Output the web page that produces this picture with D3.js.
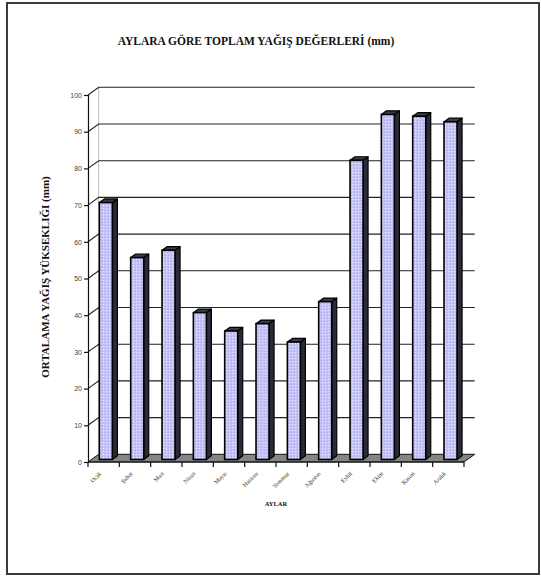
<!DOCTYPE html>
<html>
<head>
<meta charset="utf-8">
<script src="https://cdn.jsdelivr.net/npm/d3@7"></script>
<style>
  html, body { margin: 0; padding: 0; background: #fff; }
  svg { display: block; }
</style>
</head>
<body>
<svg id="chart" width="541" height="576"></svg>
<script>
// Monthly total rainfall (mm)
const months = ["Ocak", "Şubat", "Mart", "Nisan", "Mayıs", "Haziran",
                "Temmuz", "Ağustos", "Eylül", "Ekim", "Kasım", "Aralık"];
const rainfall = [70, 55, 57, 40, 35, 37, 32, 43, 81.5, 94, 93.5, 92];
const yTicks = [0, 10, 20, 30, 40, 50, 60, 70, 80, 90, 100];

const titleText = "AYLARA GÖRE TOPLAM YAĞIŞ DEĞERLERİ (mm)";
const yTitleText = "ORTALAMA YAĞIŞ YÜKSEKLIĞI (mm)";
const xTitleText = "AYLAR";

const svg = d3.select("#chart");

// outer frame
svg.append("rect")
  .attr("x", 7).attr("y", 3).attr("width", 532).attr("height", 571)
  .attr("fill", "none").attr("stroke", "#3a3a3a").attr("stroke-width", 2);

// front plane of the 3-D plot
const plotLeft = 88, plotRight = 464, plotBottom = 462, plotTop = 95;
const depthX = 10.7, depthY = -7.7;

const x = d3.scaleBand().domain(months).range([plotLeft, plotRight]).padding(0);
const y = d3.scaleLinear().domain([0, 100]).range([plotBottom, plotTop]);

// front-face pattern of the columns (fine lavender dots)
const defs = svg.append("defs");
const pat = defs.append("pattern")
  .attr("id", "dots").attr("patternUnits", "userSpaceOnUse")
  .attr("width", 3).attr("height", 3);
pat.append("rect").attr("width", 3).attr("height", 3).attr("fill", "#c2c2f6");
pat.append("rect").attr("x", 1).attr("y", 1).attr("width", 1).attr("height", 1).attr("fill", "#ececff");
pat.append("rect").attr("x", 0).attr("y", 0).attr("width", 1).attr("height", 1).attr("fill", "#aeaeea");

// floor
svg.append("path")
  .attr("d", `M${plotLeft},${plotBottom} L${plotRight},${plotBottom} L${plotRight + depthX},${plotBottom + depthY} L${plotLeft + depthX},${plotBottom + depthY} Z`)
  .attr("fill", "#858585").attr("stroke", "#111").attr("stroke-width", 1);

// back wall left edge
svg.append("line")
  .attr("x1", plotLeft + depthX).attr("x2", plotLeft + depthX)
  .attr("y1", y(0) + depthY).attr("y2", y(100) + depthY)
  .attr("stroke", "#b8b8b8").attr("stroke-width", 1);

// gridlines on the back wall and side wall
const grid = svg.append("g");
yTicks.filter(v => v > 0).forEach(v => {
  grid.append("polyline")
    .attr("points", `${plotLeft},${y(v)} ${plotLeft + depthX},${y(v) + depthY} ${plotRight + depthX},${y(v) + depthY}`)
    .attr("fill", "none").attr("stroke", "#222").attr("stroke-width", 1.1);
});

// y axis
const yAxis = svg.append("g")
  .attr("transform", `translate(${plotLeft},0)`)
  .call(d3.axisLeft(y).tickValues(yTicks).tickSize(4).tickPadding(2));
yAxis.select(".domain").attr("stroke", "#111").attr("stroke-width", 1.2);
yAxis.selectAll(".tick line").attr("stroke", "#111").attr("stroke-width", 1.2);
yAxis.selectAll(".tick text")
  .attr("font-family", "Liberation Sans, Arial, sans-serif")
  .attr("font-size", 7).attr("fill", "#444");

// x axis
svg.append("line")
  .attr("x1", plotLeft).attr("x2", plotRight).attr("y1", plotBottom).attr("y2", plotBottom)
  .attr("stroke", "#111").attr("stroke-width", 1.2);
// category separators
svg.append("g").selectAll("line")
  .data(d3.range(months.length + 1))
  .join("line")
  .attr("x1", i => plotLeft + i * x.bandwidth())
  .attr("x2", i => plotLeft + i * x.bandwidth())
  .attr("y1", plotBottom).attr("y2", plotBottom + 5)
  .attr("stroke", "#111").attr("stroke-width", 1.2);

svg.append("g").selectAll("text")
  .data(months)
  .join("text")
  .attr("transform", d => `translate(${x(d) + x.bandwidth() / 2 - 2},${plotBottom + 12}) rotate(-45)`)
  .attr("text-anchor", "end")
  .attr("font-family", "Liberation Serif, Times New Roman, serif")
  .attr("font-size", 6)
  .attr("fill", "#333")
  .text(d => d);

// 3-D columns
const f0 = 0.33, f1 = 0.8;                  // depth position of the column faces
const bw = 13;                              // column width
const bars = svg.append("g");
months.forEach((m, i) => {
  const v = rainfall[i];
  const x0 = x(m) + x.bandwidth() * 0.25 + depthX * f0;
  const x1 = x0 + bw;
  const yT = y(v) + depthY * f0;
  const yB = y(0) + depthY * f0;
  const ddx = depthX * (f1 - f0), ddy = depthY * (f1 - f0);
  const g = bars.append("g");
  // side
  g.append("path")
    .attr("d", `M${x1},${yB} L${x1 + ddx},${yB + ddy} L${x1 + ddx},${yT + ddy} L${x1},${yT} Z`)
    .attr("fill", "#2a2a3a").attr("stroke", "#000").attr("stroke-width", 1.2).attr("stroke-linejoin", "round");
  // top
  g.append("path")
    .attr("d", `M${x0},${yT} L${x0 + ddx},${yT + ddy} L${x1 + ddx},${yT + ddy} L${x1},${yT} Z`)
    .attr("fill", "#3a3a48").attr("stroke", "#000").attr("stroke-width", 1.2).attr("stroke-linejoin", "round");
  // front
  g.append("rect")
    .attr("x", x0).attr("y", yT).attr("width", bw).attr("height", yB - yT)
    .attr("fill", "url(#dots)").attr("stroke", "#000").attr("stroke-width", 1.6);
});

// titles
svg.append("text")
  .attr("x", 256).attr("y", 45)
  .attr("text-anchor", "middle")
  .attr("font-family", "Liberation Serif, Times New Roman, serif")
  .attr("font-weight", "bold").attr("font-size", 11.5)
  .attr("fill", "#111")
  .text(titleText);

svg.append("text")
  .attr("transform", "translate(49,277) rotate(-90)")
  .attr("text-anchor", "middle")
  .attr("font-family", "Liberation Serif, Times New Roman, serif")
  .attr("font-weight", "bold").attr("font-size", 11)
  .attr("fill", "#111")
  .text(yTitleText);

svg.append("text")
  .attr("x", 276).attr("y", 506)
  .attr("text-anchor", "middle")
  .attr("font-family", "Liberation Serif, Times New Roman, serif")
  .attr("font-weight", "bold").attr("font-size", 6.5)
  .attr("fill", "#111")
  .text(xTitleText);
</script>
</body>
</html>
